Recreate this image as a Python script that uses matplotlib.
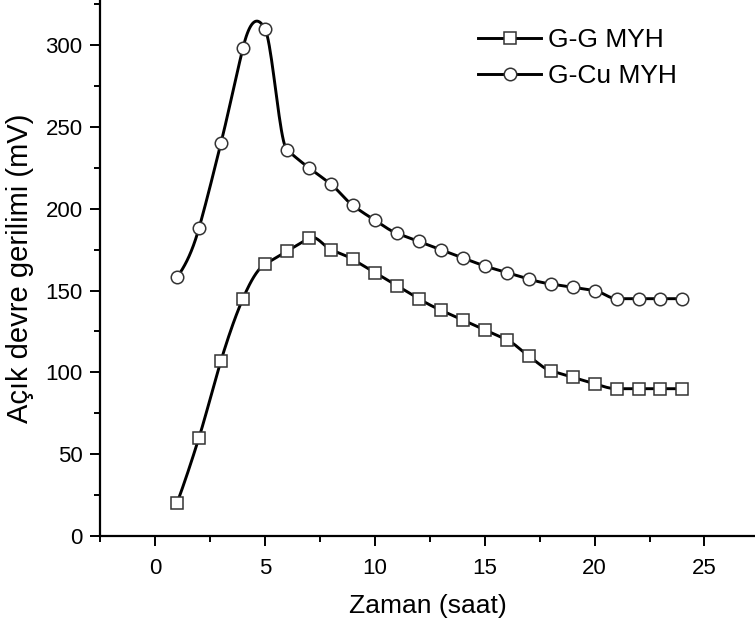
import numpy as np
import matplotlib
matplotlib.use("Agg")
import matplotlib.pyplot as plt
from matplotlib.ticker import MultipleLocator

plt.rcParams['font.family'] = ['Liberation Sans', 'DejaVu Sans']

hours = list(range(1, 25))
gg_myh = [20, 60, 107, 145, 166, 174, 182, 175, 169, 161, 153, 145,
          138, 132, 126, 120, 110, 101, 97, 93, 90, 90, 90, 90]
gcu_myh = [158, 188, 240, 298, 310, 236, 225, 215, 202, 193, 185, 180,
           175, 170, 165, 161, 157, 154, 152, 150, 145, 145, 145, 145]

x_label = "Zaman (saat)"
y_label = "Açık devre gerilimi (mV)"
series_names = ["G-G MYH", "G-Cu MYH"]


def akima(x, y, n=20):
    # Akima spline, only used to draw the smooth connecting line
    x = np.asarray(x, float)
    y = np.asarray(y, float)
    h = np.diff(x)
    m = np.diff(y) / h
    mm = np.concatenate([[3 * m[0] - 2 * m[1], 2 * m[0] - m[1]], m,
                         [2 * m[-1] - m[-2], 3 * m[-1] - 2 * m[-2]]])
    w1 = np.abs(mm[3:] - mm[2:-1])
    w2 = np.abs(mm[1:-2] - mm[:-3])
    den = w1 + w2
    t = np.where(den > 1e-9,
                 (w1 * mm[1:-2] + w2 * mm[2:-1]) / np.where(den > 1e-9, den, 1),
                 0.5 * (mm[1:-2] + mm[2:-1]))
    xs, ys = [], []
    for i in range(len(x) - 1):
        s = np.linspace(0, 1, n, endpoint=False)
        h00 = 2 * s ** 3 - 3 * s ** 2 + 1
        h10 = s ** 3 - 2 * s ** 2 + s
        h01 = -2 * s ** 3 + 3 * s ** 2
        h11 = s ** 3 - s ** 2
        xs.append(x[i] + s * h[i])
        ys.append(h00 * y[i] + h10 * h[i] * t[i] + h01 * y[i + 1] + h11 * h[i] * t[i + 1])
    xs.append([x[-1]])
    ys.append([y[-1]])
    return np.concatenate(xs), np.concatenate(ys)


fig = plt.figure(figsize=(7.55, 6.25), dpi=100)
ax = fig.add_axes([0.1325, 0.1424, 0.8675, 0.8576])

for vals, mk, ms, name in [(gg_myh, 's', 8, series_names[0]), (gcu_myh, 'o', 9, series_names[1])]:
    sx, sy = akima(hours, vals)
    ax.plot(sx, sy, color='black', lw=2.1, zorder=2)
    ax.plot(hours, vals, linestyle='none', marker=mk, ms=ms,
            mfc='white', mec='#333333', mew=1.1, zorder=3)
    ax.plot([], [], color='black', lw=2.1, marker=mk, ms=ms, mfc='white',
            mec='#333333', mew=1.1, label=name)

ax.set_xlim(-2.5, 27.3)
ax.set_ylim(0, 327.5)
ax.xaxis.set_major_locator(MultipleLocator(5))
ax.xaxis.set_minor_locator(MultipleLocator(2.5))
ax.yaxis.set_major_locator(MultipleLocator(50))
ax.yaxis.set_minor_locator(MultipleLocator(25))

for s in ['top', 'right']:
    ax.spines[s].set_visible(False)
for s in ['left', 'bottom']:
    ax.spines[s].set_linewidth(1.6)

ax.tick_params(which='major', direction='out', length=7.5, width=1.4, labelsize=16)
ax.tick_params(which='minor', direction='out', length=4, width=1.4)
ax.tick_params(axis='x', which='major', pad=8)
ax.tick_params(axis='y', which='major', pad=5)

ax.set_xlabel(x_label, fontsize=19, labelpad=11)
ax.set_ylabel(y_label, fontsize=21, labelpad=8)

ax.legend(loc='upper left', bbox_to_anchor=(478 / 755, 1 - 28 / 625),
          bbox_transform=fig.transFigure, borderaxespad=0, borderpad=0,
          frameon=False, fontsize=19, handlelength=2.4, handletextpad=0.25,
          labelspacing=0.45)

fig.savefig("out.png", dpi=100)
